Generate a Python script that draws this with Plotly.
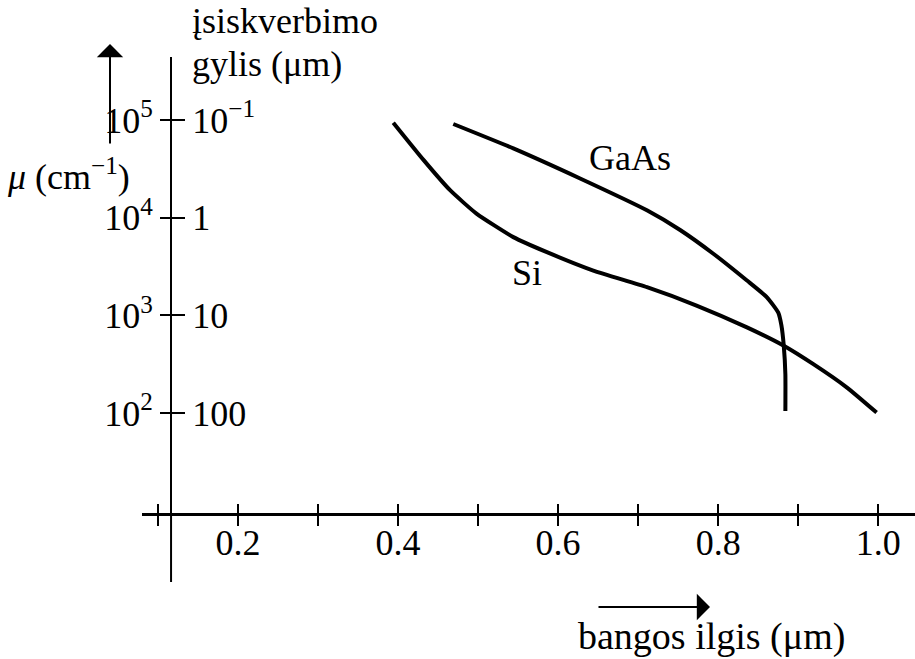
import plotly.graph_objects as go

# wavelength (um) and absorption coefficient mu (cm^-1)
si_wavelength = [0.394, 0.432, 0.465, 0.498, 0.544, 0.586, 0.644, 0.711, 0.773, 0.836, 0.882, 0.919, 0.961, 0.998]
si_mu = [93800, 38800, 19100, 11000, 6320, 4430, 2870, 1940, 1260, 752, 488, 316, 182, 101]

gaas_wavelength = [0.469, 0.544, 0.6275, 0.711, 0.7525, 0.794, 0.836, 0.861, 0.875, 0.879, 0.882, 0.884, 0.884]
gaas_mu = [91000, 51200, 25200, 11900, 7480, 4270, 2270, 1530, 1070, 794, 488, 249, 105]

x_ticks = [0.1, 0.2, 0.3, 0.4, 0.5, 0.6, 0.7, 0.8, 0.9, 1.0]
x_ticklabels = ["", "0.2", "", "0.4", "", "0.6", "", "0.8", "", "1.0"]
mu_ticks = [1e2, 1e3, 1e4, 1e5]
mu_ticklabels = ["10<sup>2</sup>", "10<sup>3</sup>", "10<sup>4</sup>", "10<sup>5</sup>"]
depth_ticklabels = ["100", "10", "1", "10<sup>−1</sup>"]

FONT = "Liberation Serif, Times New Roman, serif"
FS = 36
W, H = 915, 659
L, R, T, B = 142, 0, 57, 146
PW, PH = W - L - R, H - T - B

def px(xp):
    return (xp - L) / PW

def py(yp):
    return (H - B - yp) / PH

x_range = [0.08, 1.046]
y_range = [0.976, 5.645]
y_axis_x = 0.1163
y_axis_pos = (y_axis_x - x_range[0]) / (x_range[1] - x_range[0])

fig = go.Figure()
line_style = dict(color="black", width=4, shape="spline", smoothing=0.5)
fig.add_trace(go.Scatter(x=si_wavelength, y=si_mu, mode="lines", line=line_style, name="Si"))
fig.add_trace(go.Scatter(x=gaas_wavelength, y=gaas_mu, mode="lines", line=line_style, name="GaAs"))
# invisible trace to activate second axes
fig.add_trace(go.Scatter(x=[None], y=[None], yaxis="y2", xaxis="x2", showlegend=False))

axis_font = dict(family=FONT, size=FS, color="black")
fig.update_layout(
    width=W, height=H,
    margin=dict(l=L, r=R, t=T, b=B),
    paper_bgcolor="white", plot_bgcolor="white",
    showlegend=False,
    font=dict(family=FONT, size=FS, color="black"),
    xaxis=dict(range=x_range, tickvals=x_ticks, ticktext=x_ticklabels,
               ticks="outside", ticklen=10, tickwidth=2, tickcolor="black",
               ticklabelstandoff=-14,
               showline=True, linewidth=3, linecolor="black",
               showgrid=False, zeroline=False, tickfont=axis_font),
    xaxis2=dict(range=x_range, overlaying="x", anchor="y", side="bottom",
                tickvals=x_ticks, showticklabels=False,
                ticks="inside", ticklen=9, tickwidth=2, tickcolor="black",
                showline=False, showgrid=False, zeroline=False),
    yaxis=dict(type="log", range=y_range, anchor="free", position=y_axis_pos,
               tickvals=mu_ticks, ticktext=mu_ticklabels,
               ticks="outside", ticklen=10, tickwidth=2, tickcolor="black",
               showline=True, linewidth=2, linecolor="black",
               showgrid=False, zeroline=False, tickfont=axis_font),
    yaxis2=dict(type="log", range=y_range, anchor="free", position=y_axis_pos,
                overlaying="y", side="right",
                tickvals=mu_ticks, ticktext=depth_ticklabels,
                ticks="outside", ticklen=13, tickwidth=2, tickcolor="black",
                showline=False, showgrid=False, zeroline=False, tickfont=axis_font),
)

# extension of vertical axis below horizontal axis
fig.add_shape(type="line", xref="x", yref="paper", x0=y_axis_x, x1=y_axis_x,
              y0=0, y1=py(582), line=dict(color="black", width=2))

tf = dict(family=FONT, size=FS, color="black")
ann = []
ann.append(dict(text="GaAs", x=0.69, y=4.61, xref="x", yref="y", showarrow=False, font=tf))
ann.append(dict(text="Si", x=0.561, y=3.433, xref="x", yref="y", showarrow=False, font=tf))
ann.append(dict(text="įsiskverbimo", x=px(190), y=py(21), xref="paper", yref="paper",
                xanchor="left", yanchor="middle", showarrow=False, font=tf))
ann.append(dict(text="gylis (μm)", x=px(190), y=py(64), xref="paper", yref="paper",
                xanchor="left", yanchor="middle", showarrow=False, font=tf))
ann.append(dict(text="<i>μ</i> (cm<sup>−1</sup>)", x=px(5), y=py(174), xref="paper", yref="paper",
                xanchor="left", yanchor="middle", showarrow=False, font=tf))
ann.append(dict(text="bangos ilgis (μm)", x=px(576), y=py(636), xref="paper", yref="paper",
                xanchor="left", yanchor="middle", showarrow=False,
                font=dict(family=FONT, size=38, color="black")))
# arrows
ann.append(dict(text="", x=px(710), y=py(607), xref="paper", yref="paper",
                ax=-113, ay=0, showarrow=True, arrowhead=1, arrowsize=2.2, arrowwidth=2,
                arrowcolor="black"))
ann.append(dict(text="", x=px(110), y=py(44), xref="paper", yref="paper",
                ax=0, ay=101, showarrow=True, arrowhead=1, arrowsize=2.2, arrowwidth=2,
                arrowcolor="black"))
fig.update_layout(annotations=ann)

fig.write_html("out.html")
